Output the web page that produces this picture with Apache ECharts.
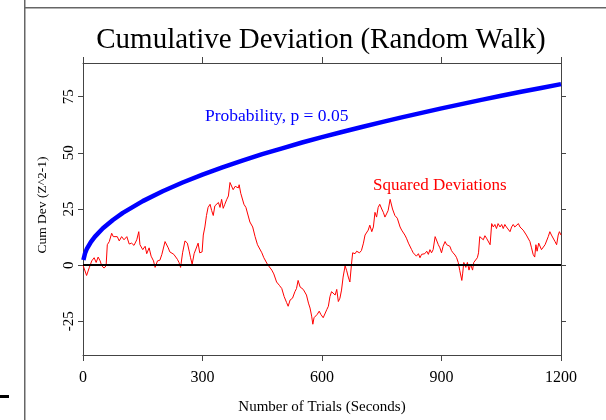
<!DOCTYPE html>
<html>
<head>
<meta charset="utf-8">
<script src="https://cdn.jsdelivr.net/npm/echarts@6/dist/echarts.min.js"></script>
<style>
html,body{margin:0;padding:0;background:#fff;}
#c{width:606px;height:420px;}
</style>
</head>
<body>
<div id="c"></div>
<script>
const titleText = 'Cumulative Deviation (Random Walk)';
const xName = 'Number of Trials (Seconds)';
const yName = 'Cum Dev (Z^2-1)';
const probLabel = 'Probability, p = 0.05';
const devLabel = 'Squared Deviations';
const xTicks = [0, 300, 600, 900, 1200];
const yTicks = [-25, 0, 25, 50, 75];

const probTrials = [1, 5, 10, 20, 30, 50, 75, 100, 150, 200, 250, 300, 350, 400, 450, 500, 550, 600, 650, 700, 750, 800, 850, 900, 950, 1000, 1050, 1100, 1150, 1200];
const probValues = [2.3, 5.2, 7.4, 10.4, 12.7, 16.4, 20.1, 23.3, 28.5, 32.9, 36.8, 40.3, 43.5, 46.5, 49.4, 52.0, 54.6, 57.0, 59.3, 61.5, 63.7, 65.8, 67.8, 69.8, 71.7, 73.6, 75.4, 77.2, 78.9, 80.6];

const devTrials = [0,1,9,16,22,28,33,38,43,47,53,58,61,66,72,76,80,86,91,97,103,110,116,122,128,135,140,143,150,156,160,166,171,177,181,187,193,198,206,210,214,218,223,228,233,237,241,245,250,256,262,267,270,274,279,284,289,293,299,302,306,310,314,319,323,327,331,335,340,344,348,352,356,361,365,369,373,377,382,386,390,392,396,398,404,409,412,419,426,432,438,443,449,454,459,463,468,474,479,486,493,499,505,511,515,520,526,532,536,540,545,549,553,557,561,566,570,574,577,580,585,588,593,597,599,603,607,612,616,620,624,628,633,637,641,645,649,653,658,662,666,670,674,677,683,687,694,699,704,708,712,716,720,725,729,733,737,741,745,750,754,758,762,766,771,773,777,783,789,796,800,804,808,812,817,821,825,829,833,837,842,846,850,854,858,863,867,871,875,879,884,888,892,896,900,904,909,913,917,921,925,929,934,938,942,946,951,953,956,961,965,969,973,978,981,986,990,993,996,1001,1005,1009,1013,1017,1022,1026,1030,1034,1038,1042,1047,1051,1055,1059,1063,1068,1072,1076,1080,1084,1088,1093,1097,1101,1105,1109,1113,1118,1122,1126,1130,1134,1137,1140,1144,1147,1151,1155,1160,1164,1168,1172,1176,1180,1185,1189,1193,1196,1200];
const devValues = [0,-0.3,-4.6,-1.0,1.9,3.3,1.2,3.6,1.9,-0.3,-1.3,-0.3,9.1,10.5,14.2,12.7,12.0,12.7,10.8,12.7,11.3,12.7,9.4,9.8,8.8,11.3,14.9,9.1,6.9,8.4,5.1,7.7,4.0,1.9,-1.0,1.9,2.2,4.8,10.5,10.3,7.7,5.9,6.5,4.8,5.1,2.6,1.2,-1.0,5.5,10.8,9.8,5.9,3.3,0.4,5.1,5.9,9.8,5.5,5.9,13.4,17.0,22.1,25.7,27.1,24.3,22.1,26.4,25.7,27.9,25.7,29.3,25.3,27.1,29.3,30.8,36.8,37.3,33.6,35.1,35.8,34.4,35.8,32.0,30.8,27.1,25.7,25.0,19.2,17.0,12.7,9.1,8.4,5.5,3.3,2.6,0.4,-0.3,-2.2,-3.9,-7.5,-9.0,-10.4,-14.0,-16.6,-18.3,-15.5,-14.7,-11.8,-10.4,-6.8,-9.7,-9.4,-10.8,-10.4,-13.3,-16.9,-19.1,-22.7,-26.3,-23.4,-24.1,-21.9,-20.5,-21.9,-21.2,-23.4,-24.1,-19.8,-18.3,-14.0,-11.8,-11.1,-13.3,-10.8,-16.2,-14.7,-11.1,-5.3,-0.3,-2.5,-5.3,-7.5,0.4,5.5,5.1,6.2,5.5,6.5,9.8,13.4,12.7,15.6,17.8,14.9,17.0,23.5,21.4,25.7,27.1,25.0,23.5,21.4,22.8,24.3,29.3,30.0,25.0,22.1,20.9,17.0,15.6,16.3,13.4,12.0,9.8,9.1,6.9,5.5,4.8,4.0,5.1,3.3,4.8,4.0,5.1,6.2,4.8,6.9,5.5,6.9,12.7,12.0,9.1,7.7,5.5,8.4,10.5,9.1,9.8,8.4,6.5,5.5,4.5,3.3,1.2,-2.5,-6.8,-3.9,1.2,-1.0,1.2,-2.2,0.4,-2.2,1.2,1.9,3.3,5.5,12.7,12.0,11.3,13.1,12.0,11.3,9.1,18.5,17.0,18.1,16.3,18.5,17.0,18.1,16.3,18.1,17.0,16.3,14.9,17.0,18.1,17.0,17.8,18.5,17.0,17.8,15.6,14.9,13.4,12.7,10.5,7.7,4.8,3.6,9.1,6.2,9.8,9.1,6.9,7.7,9.1,8.4,12.7,14.9,13.4,12.7,10.5,9.1,13.4,14.9,13.4];

const serif = '"Liberation Serif", "Times New Roman", serif';
const axisColor = '#444';

const chart = echarts.init(document.getElementById('c'), null, {renderer: 'canvas'});

const probData = probTrials.map((t, i) => [t, probValues[i]]);
const devData = devTrials.map((t, i) => [t, devValues[i]]);

const baseX = {
  type: 'value', min: xTicks[0], max: xTicks[xTicks.length - 1], interval: 300,
  splitLine: {show: false},
  axisLine: {show: true, onZero: false, lineStyle: {color: axisColor, width: 1}},
  axisTick: {show: true, inside: false, length: 6, lineStyle: {color: axisColor}}
};
const baseY = {
  type: 'value', min: -40, max: 90,
  splitLine: {show: false},
  axisLine: {show: true, onZero: false, lineStyle: {color: axisColor, width: 1}},
  axisTick: {show: true, inside: false, length: 5, customValues: yTicks, lineStyle: {color: axisColor}}
};

chart.setOption({
  backgroundColor: '#fff',
  animation: false,
  grid: {left: 83, right: 45, top: 63, bottom: 56, containLabel: false},
  xAxis: [
    Object.assign({}, baseX, {
      position: 'bottom',
      name: xName, nameLocation: 'middle', nameGap: 45,
      nameTextStyle: {fontFamily: serif, fontSize: 15, color: '#000'},
      axisLabel: {show: true, margin: 15, fontFamily: serif, fontSize: 16, color: '#000',
        customValues: xTicks, formatter: v => String(v)}
    }),
    Object.assign({}, baseX, {
      position: 'top',
      axisLabel: {show: false}
    })
  ],
  yAxis: [
    Object.assign({}, baseY, {
      position: 'left',
      axisLabel: {show: true, rotate: 90, margin: 6, fontFamily: serif, fontSize: 15, color: '#000', customValues: yTicks}
    }),
    Object.assign({}, baseY, {
      position: 'right',
      axisLabel: {show: false}
    })
  ],
  series: [
    {
      type: 'line', name: probLabel, data: probData, showSymbol: false, symbol: 'none',
      lineStyle: {color: '#0000ff', width: 4.5}, z: 3
    },
    {
      type: 'line', name: devLabel, data: devData, showSymbol: false, symbol: 'none',
      lineStyle: {color: '#ff0000', width: 1}, z: 2,
      markLine: {
        silent: true, symbol: ['none', 'none'], label: {show: false},
        lineStyle: {color: '#000', width: 2, type: 'solid'},
        data: [{yAxis: 0}]
      }
    }
  ],
  graphic: [
    {type: 'rect', shape: {x: 24, y: 0, width: 1.5, height: 420}, style: {fill: '#666'}},
    {type: 'rect', shape: {x: 24, y: 7, width: 582, height: 1.5}, style: {fill: '#666'}},
    {type: 'rect', shape: {x: 0, y: 395, width: 9, height: 3}, style: {fill: '#000'}},
    {type: 'text', x: 321, y: 40, style: {text: titleText, font: '29px ' + serif, fill: '#000', textAlign: 'center', textVerticalAlign: 'middle'}},
    {type: 'text', x: 42.5, y: 205, rotation: Math.PI / 2, style: {text: yName, font: '13.5px ' + serif, fill: '#000', textAlign: 'center', textVerticalAlign: 'middle'}},
    {type: 'text', x: 205, y: 116, style: {text: probLabel, font: '17.5px ' + serif, fill: '#0000ff', textAlign: 'left', textVerticalAlign: 'middle'}},
    {type: 'text', x: 373, y: 186, style: {text: devLabel, font: '17px ' + serif, fill: '#ff0000', textAlign: 'left', textVerticalAlign: 'middle'}}
  ]
});
</script>
</body>
</html>
